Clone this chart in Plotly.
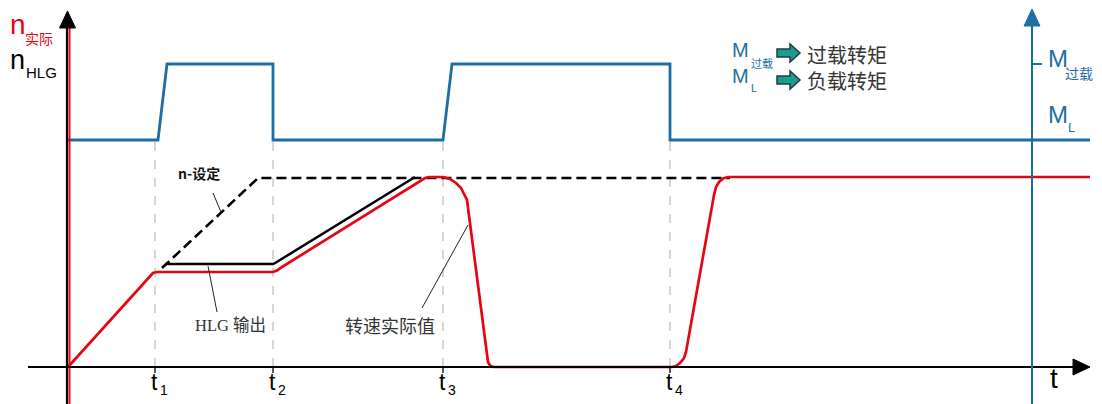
import plotly.graph_objects as go

# ---------------- data (time / speed / torque units, origin at the axes crossing) ----------------
t_marks = [87, 205, 375, 602]
t_labels = ["1", "2", "3", "4"]

M_L = 227
M_over = 303
torque_t = [0, 90, 99, 205, 205, 375, 384, 602, 602, 1022]
torque_v = [M_L, M_L, M_over, M_over, M_L, M_L, M_over, M_over, M_L, M_L]

nset_t = [94, 190, 662]
nset_v = [99, 189, 189]

hlg_t = [97, 205, 208, 212, 347]
hlg_v = [103, 103, 104.5, 107, 190]

nact_t = [0, 82, 85, 89, 205, 209, 214, 357, 361, 366, 375, 382, 388, 393, 397, 399,
          420, 422, 425, 604, 608, 612, 616, 618, 646, 648, 651, 655, 660, 1022]
nact_v = [0, 91, 94, 95, 95, 96.5, 100, 189, 190, 190, 190, 188, 184, 179, 172, 167,
          5, 1.5, 0, 0, 1, 4, 9, 15, 172, 180, 185, 188.5, 190, 190]

legend_texts = ["过载转矩", "负载转矩"]

# ---------------- helpers: reference pixel -> data units ----------------
X0, Y0 = 68, 367
PAGE = 8  # browser body margin


def px(x):
    return x - X0


def py(y):
    return Y0 - y


RED = "#e30613"
BLUE = "#1d6fa3"
GREY_DASH = "#c4c2b4"
TEXT = "#333333"
LATIN = "Liberation Sans, Arial, sans-serif"
CJK = "Noto Sans CJK SC, sans-serif"

fig = go.Figure()

# vertical dashed guides at t1..t4
for tm in t_marks:
    fig.add_shape(type="line", x0=tm, x1=tm, y0=0, y1=M_L,
                  line=dict(color=GREY_DASH, width=1.3, dash="dash"), layer="below")
    fig.add_shape(type="line", x0=tm, x1=tm, y0=0, y1=-6,
                  line=dict(color="black", width=1.3))

# torque (blue)
fig.add_trace(go.Scatter(x=torque_t, y=torque_v, mode="lines",
                         line=dict(color=BLUE, width=2.8), hoverinfo="skip"))
# n set (dashed black)
fig.add_trace(go.Scatter(x=nset_t, y=nset_v, mode="lines",
                         line=dict(color="black", width=2.6, dash="10px,5px"), hoverinfo="skip"))
# HLG output (black)
fig.add_trace(go.Scatter(x=hlg_t, y=hlg_v, mode="lines",
                         line=dict(color="black", width=2.5), hoverinfo="skip"))
# actual speed (red)
fig.add_trace(go.Scatter(x=nact_t, y=nact_v, mode="lines",
                         line=dict(color=RED, width=2.7), hoverinfo="skip"))

# axes drawn as lines with arrow heads
fig.add_shape(type="line", x0=px(67), x1=px(67), y0=py(410), y1=py(26),
              line=dict(color="black", width=2.2))
fig.add_shape(type="line", x0=px(69.5), x1=px(69.5), y0=py(410), y1=py(28),
              line=dict(color=RED, width=2))
fig.add_shape(type="line", x0=px(28), x1=px(1076), y0=0, y1=0,
              line=dict(color="black", width=2))
fig.add_shape(type="line", x0=px(1032), x1=px(1032), y0=py(410), y1=py(24),
              line=dict(color=BLUE, width=2))
fig.add_shape(type="line", x0=px(1032), x1=px(1042), y0=M_over, y1=M_over,
              line=dict(color=BLUE, width=2))


def head(xt, yt, direction, color):
    L, W = 17, 8
    if direction == "up":
        pts = [(xt, yt), (xt - W, yt + L), (xt + W, yt + L)]
    else:
        pts = [(xt, yt), (xt - L, yt - W), (xt - L, yt + W)]
    path = "M " + " L ".join(f"{px(a)},{py(b)}" for a, b in pts) + " Z"
    fig.add_shape(type="path", path=path, fillcolor=color, line=dict(color=color, width=1))


head(67.5, 11, "up", "black")
head(1032, 9, "up", BLUE)
head(1090, 367, "right", "black")


def block_arrow(x, y):
    pts = [(x, y - 4), (x + 13, y - 4), (x + 13, y - 9), (x + 23, y),
           (x + 13, y + 9), (x + 13, y + 4), (x, y + 4)]
    path = "M " + " L ".join(f"{px(a)},{py(b)}" for a, b in pts) + " Z"
    fig.add_shape(type="path", path=path, fillcolor="#1a9c8e",
                  line=dict(color="#1e3f3c", width=1.5))


block_arrow(777, 53)
block_arrow(777, 80)

# leader lines
for (a, b, c, d) in [(213, 193, 221, 212), (208, 266, 217, 312), (422, 308, 468, 225)]:
    fig.add_shape(type="line", x0=px(a), y0=py(b), x1=px(c), y1=py(d),
                  line=dict(color="#222222", width=1))


def txt(x, y, s, size, color, family, xanchor="left", yanchor="middle"):
    fig.add_annotation(x=px(x), y=py(y), text=s, showarrow=False, xanchor=xanchor,
                       yanchor=yanchor, align="left",
                       font=dict(size=size, color=color, family=family))


# left axis labels
txt(8, 24, "n", 28, RED, LATIN)
txt(23, 38, "实际", 14, RED, CJK)
txt(8, 60, "n", 27, "black", LATIN)
txt(24, 72, "HLG", 15, "black", LATIN)

# right axis labels
txt(1046, 58, "M", 24, BLUE, LATIN)
txt(1063, 73, "过载", 14, BLUE, CJK)
txt(1046, 114, "M", 24, BLUE, LATIN)
txt(1066, 127, "L", 13, BLUE, LATIN)

# legend
txt(730, 50, "M", 20, BLUE, LATIN)
txt(749, 63, "过载", 11, BLUE, CJK)
txt(730, 76, "M", 20, BLUE, LATIN)
txt(749, 88, "L", 11, BLUE, LATIN)
txt(805, 67, "<br>".join(legend_texts), 20, TEXT, CJK)

# curve labels
txt(176, 173, "<b>n-设定</b>", 14, "#111111", CJK)
txt(193, 325, "HLG 输出", 16.5, TEXT, "Liberation Serif, Noto Sans CJK SC, serif")
txt(343, 325, "转速实际值", 18, TEXT, CJK)

# time labels
for tm, lab in zip(t_marks, t_labels):
    txt(X0 + tm - 6, 382, "t", 23, "black", LATIN)
    txt(X0 + tm + 3, 390, lab, 14, "black", LATIN)
txt(1048, 378, "t", 28, "black", LATIN)

fig.update_layout(
    width=1102 - PAGE, height=404 - PAGE,
    margin=dict(l=0, r=0, t=0, b=0),
    paper_bgcolor="white", plot_bgcolor="white",
    showlegend=False,
    xaxis=dict(range=[px(PAGE), px(1102)], visible=False, fixedrange=True),
    yaxis=dict(range=[py(404), py(PAGE)], visible=False, fixedrange=True),
)

fig.write_html("out.html")
